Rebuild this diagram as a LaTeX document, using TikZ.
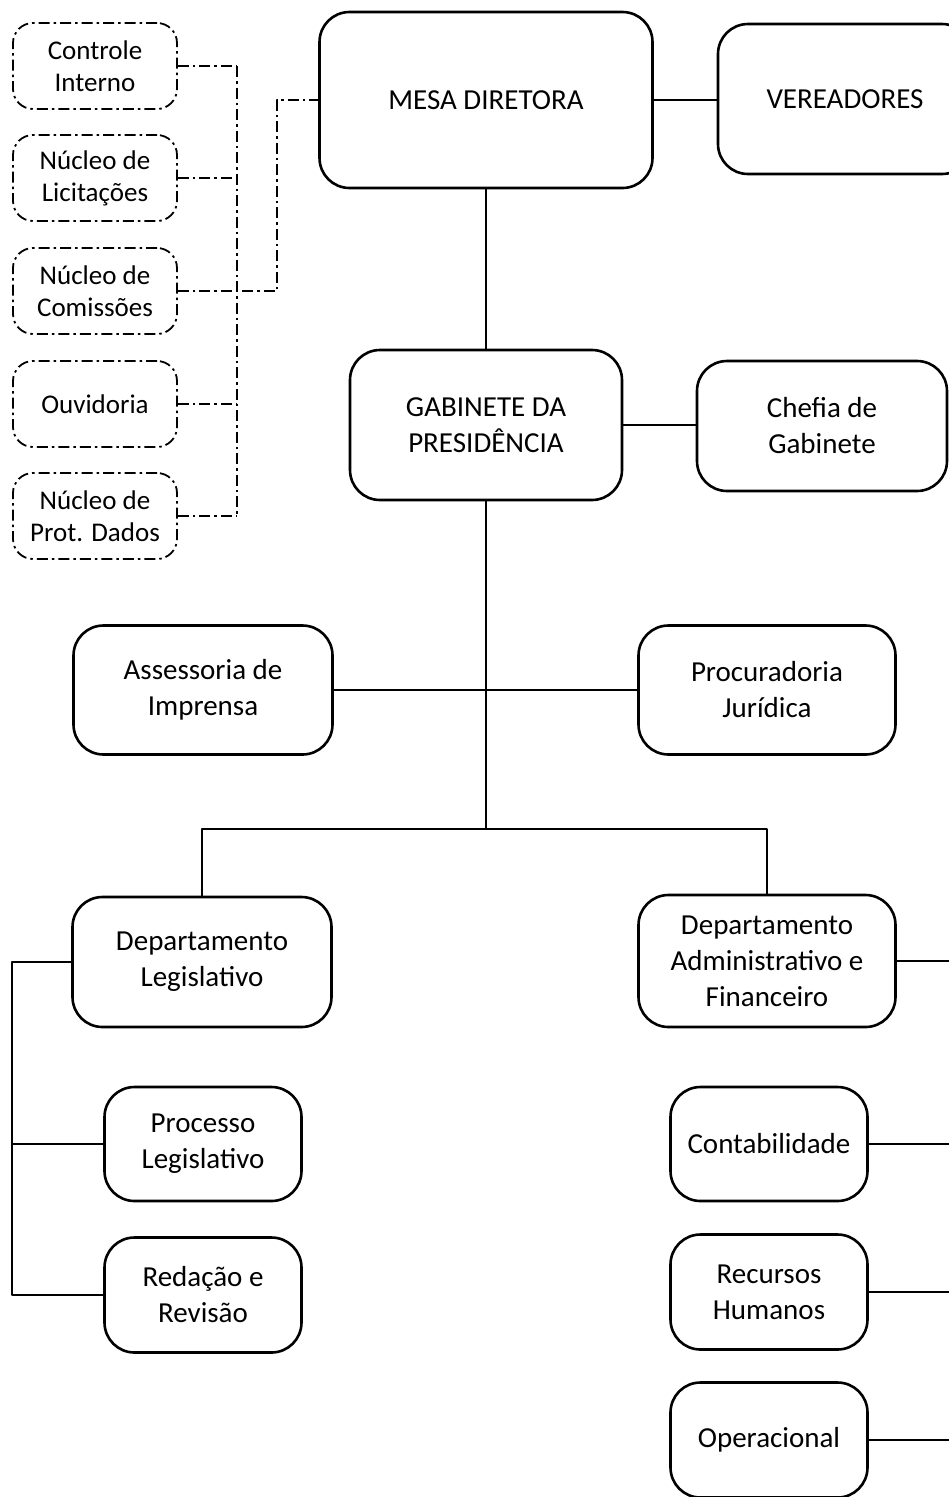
\documentclass[tikz,border=0pt]{standalone}
\usepackage{fontspec}
\setmainfont{Carlito}
\usetikzlibrary{positioning, calc}

\begin{document}
\begin{tikzpicture}[x=1pt, y=-1pt, line join=round,
    unit/.style={draw, line width=2.6pt, rounded corners=30pt, align=center,
      font=\fontsize{29}{36}\selectfont},
    aux/.style={draw, line width=1.8pt, rounded corners=20pt, align=center,
      dash pattern=on 11pt off 4pt on 2.5pt off 4pt,
      minimum width=164pt, minimum height=86pt, font=\fontsize{27}{32}\selectfont},
    link/.style={line width=1.6pt},
    auxlink/.style={line width=1.6pt, dash pattern=on 11pt off 4pt on 2.5pt off 4pt}]
  \clip (0,0) rectangle (949,1497);
  \fill[white] (0,0) rectangle (949,1497);
  % top
  \node[unit, minimum width=333pt, minimum height=176pt] (mesa) at (486,100) {MESA DIRETORA};
  \node[unit, minimum width=254pt, minimum height=150pt] (vere) at (845,99) {VEREADORES};
  \node[unit, minimum width=272pt, minimum height=150pt] (gab) at (486,425) {GABINETE DA\\PRESIDÊNCIA};
  \node[unit, minimum width=250pt, minimum height=130pt] (chefia) at (822,426) {Chefia de\\Gabinete};
  % assessorias
  \node[unit, minimum width=259pt, minimum height=129pt] (imprensa) at (203,690) {Assessoria de\\Imprensa};
  \node[unit, minimum width=257pt, minimum height=129pt] (procur) at (767,690) {Procuradoria\\Jurídica};
  % departamentos
  \node[unit, minimum width=259pt, minimum height=130pt] (deplegis) at (202,962) {Departamento\\Legislativo};
  \node[unit, minimum width=257pt, minimum height=132pt] (depadm) at (767,961) {Departamento\\Administrativo e\\Financeiro};
  \node[unit, minimum width=197pt, minimum height=114pt] (processo) at (203,1144) {Processo\\Legislativo};
  \node[unit, minimum width=197pt, minimum height=115pt] (redacao) at (203,1295) {Redação e\\Revisão};
  \node[unit, minimum width=197pt, minimum height=114pt] (contab) at (769,1144) {Contabilidade};
  \node[unit, minimum width=197pt, minimum height=115pt] (rh) at (769,1292) {Recursos\\Humanos};
  \node[unit, minimum width=197pt, minimum height=115pt] (operac) at (769,1440) {Operacional};
  % apoio (tracejado)
  \foreach \n/\y/\t in {ctrl/66/Controle\\Interno, licit/178/Núcleo de\\Licitações,
      comis/291/Núcleo de\\Comissões, ouvid/404/Ouvidoria, prot/516/Núcleo de\\Prot. Dados}{
    \node[aux] (\n) at (95,\y) {\t};
  }
  \coordinate (abus) at (237,71);
  \coordinate (mbend) at (277,100);
  \foreach \n in {ctrl, licit, comis, ouvid, prot}{
    \draw[auxlink] (\n.east) -- (\n.east -| abus);
  }
  \draw[auxlink] (ctrl.east -| abus) -- (prot.east -| abus);
  \draw[auxlink] (comis.east) -| (mbend) -- (mesa.west);
  % ligacoes
  \coordinate (split) at (486,829);
  \coordinate (lbus) at (12,962);
  \coordinate (redge) at (949,962);
  \draw[link] (mesa.east) -- (mesa.east -| vere.west);
  \draw[link] (mesa.south) -- (gab.north);
  \draw[link] (gab.east) -- (gab.east -| chefia.west);
  \draw[link] (gab.south) -- (split);
  \draw[link] (imprensa.east) -- (imprensa.east -| procur.west);
  \draw[link] (deplegis.north) |- (split) -| (depadm.north);
  \draw[link] (deplegis.west) -- (lbus) |- (redacao.west);
  \draw[link] (processo.west) -- (processo.west -| lbus);
  \foreach \n in {depadm, contab, rh, operac}{
    \draw[link] (\n.east) -- (\n.east -| redge);
  }
\end{tikzpicture}
\end{document}
